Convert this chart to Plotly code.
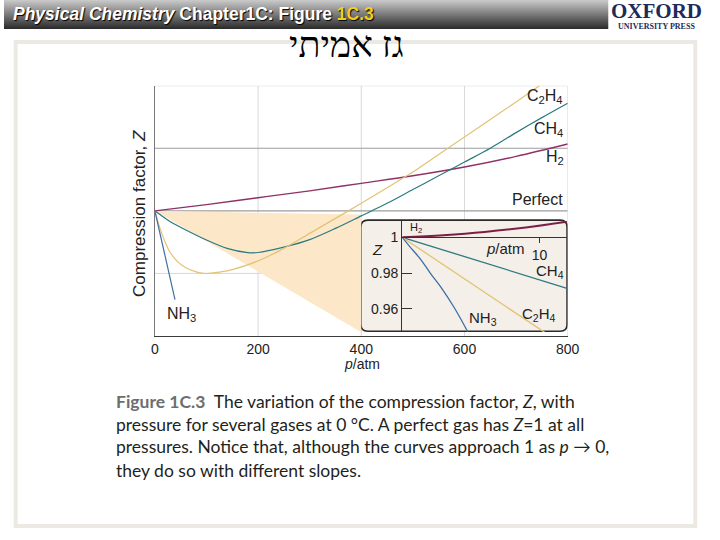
import plotly.graph_objects as go

W, H = 720, 540
def X(px): return px / W
def Y(py): return 1 - py / H

FONT = "Liberation Sans, Arial, sans-serif"

# ---------------- data ----------------
h2_p = [0, 100, 200, 300, 400, 500, 600, 700, 800]
h2_z = [1.0, 1.05, 1.105, 1.16, 1.22, 1.28, 1.35, 1.435, 1.534]

ch4_p = [0, 15, 30, 60, 100, 140, 180, 200, 250, 300, 350, 400, 450, 500, 550, 600, 650, 700, 750, 800]
ch4_z = [1.0, 0.955, 0.913, 0.847, 0.767, 0.70, 0.666, 0.667, 0.71, 0.77, 0.86, 0.96, 1.06, 1.17, 1.28, 1.39, 1.50, 1.625, 1.745, 1.86]

c2h4_p = [0, 10, 20, 30, 45, 60, 80, 95, 110, 125, 150, 200, 250, 300, 350, 400, 450, 500, 550, 600, 650, 700, 745]
c2h4_z = [1.0, 0.86, 0.75, 0.665, 0.59, 0.545, 0.512, 0.5, 0.502, 0.51, 0.53, 0.6, 0.7, 0.82, 0.94, 1.06, 1.185, 1.31, 1.45, 1.59, 1.73, 1.87, 2.0]

nh3_p = [0, 10, 20, 30, 39]
nh3_z = [1.0, 0.82, 0.64, 0.46, 0.29]

shade_p = [0, 400, 400, 0]
shade_z = [1.0, 0.97, 0.03, 1.0]

# inset (low pressure)
in_h2_p = [0, 3, 6, 9, 12]
in_h2_z = [1.0, 1.0012, 1.003, 1.0055, 1.0087]
in_ch4_p = [0, 12]
in_ch4_z = [1.0, 0.9715]
in_c2h4_p = [0, 12]
in_c2h4_z = [1.0, 0.9386]
in_nh3_p = [0, 0.55, 1.38, 2.04, 2.9, 3.75, 4.7, 5.2]
in_nh3_z = [1.0, 0.9948, 0.9873, 0.98, 0.9712, 0.9612, 0.9482, 0.9405]

main_xticks = [0, 200, 400, 600, 800]
inset_yticks = [0.96, 0.98, 1.0]
inset_yticktext = ["0.96", "0.98", "1"]
inset_xticks = [10]

C_H2 = "#8f3068"
C_CH4 = "#2b7a80"
C_C2H4 = "#e3c275"
C_NH3 = "#3f6ea6"

fig = go.Figure()

# main plot
fig.add_trace(go.Scatter(x=shade_p, y=shade_z, mode="lines", fill="toself",
                         fillcolor="#fce8c9", line=dict(width=0), hoverinfo="skip"))
fig.add_trace(go.Scatter(x=h2_p, y=h2_z, mode="lines", line=dict(color=C_H2, width=1.4, shape="spline")))
fig.add_trace(go.Scatter(x=ch4_p, y=ch4_z, mode="lines", line=dict(color=C_CH4, width=1.2, shape="spline", smoothing=0.8)))
fig.add_trace(go.Scatter(x=c2h4_p, y=c2h4_z, mode="lines", line=dict(color=C_C2H4, width=1.2, shape="spline", smoothing=0.8)))
fig.add_trace(go.Scatter(x=nh3_p, y=nh3_z, mode="lines", line=dict(color=C_NH3, width=1.2)))

# inset
fig.add_trace(go.Scatter(x=in_h2_p, y=in_h2_z, mode="lines", xaxis="x2", yaxis="y2",
                         line=dict(color="#7a2048", width=2, shape="spline")))
fig.add_trace(go.Scatter(x=in_ch4_p, y=in_ch4_z, mode="lines", xaxis="x2", yaxis="y2",
                         line=dict(color=C_CH4, width=1.3)))
fig.add_trace(go.Scatter(x=in_c2h4_p, y=in_c2h4_z, mode="lines", xaxis="x2", yaxis="y2",
                         line=dict(color=C_C2H4, width=1.3)))
fig.add_trace(go.Scatter(x=in_nh3_p, y=in_nh3_z, mode="lines", xaxis="x2", yaxis="y2",
                         line=dict(color=C_NH3, width=1.3, shape="spline")))

shapes = []
# title bar gradient
top = (200, 200, 200)
bot = (44, 44, 44)
n = 29
for i in range(n):
    t = i / (n - 1)
    c = tuple(int(top[k] + (bot[k] - top[k]) * t) for k in range(3))
    shapes.append(dict(type="rect", xref="paper", yref="paper", x0=0, x1=X(618),
                       y0=Y(i + 1), y1=Y(i), fillcolor="rgb(%d,%d,%d)" % c,
                       line=dict(width=0), layer="below"))
# panel frame
shapes.append(dict(type="rect", xref="paper", yref="paper", x0=X(12), x1=X(707), y0=Y(526), y1=Y(42),
                   line=dict(color="#ebe9e2", width=4), fillcolor="rgba(0,0,0,0)", layer="below"))
# main grid
for gx in [200, 400, 600, 800]:
    shapes.append(dict(type="line", xref="x", yref="y", x0=gx, x1=gx, y0=0, y1=2,
                       line=dict(color="#d8d8d8", width=1), layer="below"))
for gy, col, wd in [(0.5, "#d8d8d8", 1), (1.0, "#9c9c9c", 1.2), (1.5, "#9c9c9c", 1.2), (2.0, "#d0d0d0", 1)]:
    shapes.append(dict(type="line", xref="x", yref="y", x0=0, x1=800, y0=gy, y1=gy,
                       line=dict(color=col, width=wd), layer="below"))
# inset box (rounded)
x0, x1, y0, y1 = 399.2, 798.8, 0.0376, 0.9256
rx, ry = 13.3, 0.056
path = (f"M {x0+rx},{y1} L {x1-rx},{y1} Q {x1},{y1} {x1},{y1-ry} L {x1},{y0+ry} "
        f"Q {x1},{y0} {x1-rx},{y0} L {x0+rx},{y0} Q {x0},{y0} {x0},{y0+ry} "
        f"L {x0},{y1-ry} Q {x0},{y1} {x0+rx},{y1} Z")
shapes.append(dict(type="path", xref="x", yref="y", path=path, fillcolor="#f4efe8",
                   line=dict(color="#2a2a2a", width=1.6), layer="below"))

ann = []
def A(text, x, y, size=16, xref="paper", yref="paper", xanchor="center", yanchor="middle",
      color="#222", family=FONT, **kw):
    ann.append(dict(text=text, x=x, y=y, xref=xref, yref=yref, xanchor=xanchor, yanchor=yanchor,
                    showarrow=False, font=dict(size=size, color=color, family=family), **kw))

# header
ann.append(dict(text="<b><i>Physical Chemistry</i> Chapter1C: Figure <span style='color:#f2cf1f'>1C.3</span></b>",
                x=X(7), y=Y(14), xref="paper", yref="paper", xanchor="left", yanchor="middle",
                showarrow=False, font=dict(size=17.5, color="white", family=FONT, shadow="1px 1px 1px #000")))
A("<b>OXFORD</b>", X(667), Y(11), size=21, color="#1d2b5b", family="Liberation Serif, Times New Roman, serif")
A("<b>UNIVERSITY PRESS</b>", X(667), Y(26.5), size=8, color="#1d2b5b", family="Liberation Serif, Times New Roman, serif")
A("גז אמיתי", X(350), Y(45), size=36, color="#000", family="Liberation Serif, DejaVu Serif, serif")

# main labels
A("C<sub>2</sub>H<sub>4</sub>", 795, 1.91, xref="x", yref="y", xanchor="right")
A("CH<sub>4</sub>", 795, 1.654, xref="x", yref="y", xanchor="right")
A("H<sub>2</sub>", 796, 1.43, xref="x", yref="y", xanchor="right")
A("Perfect", 794, 1.088, xref="x", yref="y", xanchor="right")
A("NH<sub>3</sub>", 20, 0.174, xref="x", yref="y", xanchor="left")
A("Compression factor, <i>Z</i>", X(139), Y(213), size=17, textangle=-90)
A("<i>p</i>/atm", X(366), Y(364), size=14)

# inset labels
A("H<sub>2</sub>", 0.41, 1.0052, size=11, xref="x2", yref="y2", xanchor="left")
A("CH<sub>4</sub>", 11.94, 0.9808, size=15, xref="x2", yref="y2", xanchor="right")
A("C<sub>2</sub>H<sub>4</sub>", 11.37, 0.9566, size=15, xref="x2", yref="y2", xanchor="right")
A("NH<sub>3</sub>", 5.85, 0.9549, size=15, xref="x2", yref="y2")
A("<i>p</i>/atm", 9.1, 0.994, size=15, xref="x2", yref="y2", xanchor="right")
A("<i>Z</i>", X(381.7), Y(249), size=15)

# caption
CAP = "Lato, Open Sans, sans-serif"
cap_lines = [
    "<span style='color:#6e6e6e'><b>Figure 1C.3</b></span>  The variation of the compression factor, <i>Z</i>, with",
    "pressure for several gases at 0 °C. A perfect gas has <i>Z</i>=1 at all",
    "pressures. Notice that, although the curves approach 1 as <i>p</i> → 0,",
    "they do so with different slopes.",
]
for i, line in enumerate(cap_lines):
    A(line, X(112), Y(401 + 23 * i), size=17.5, xanchor="left", color="#231f20", family=CAP)

axfont = dict(size=14, color="#222", family=FONT)
fig.update_layout(
    width=W, height=H, autosize=False, margin=dict(l=0, r=0, t=0, b=0),
    paper_bgcolor="white", plot_bgcolor="rgba(0,0,0,0)", showlegend=False,
    shapes=shapes, annotations=ann,
    xaxis=dict(domain=[X(154.3), X(576.5)], range=[0, 800], tickvals=main_xticks,
               showgrid=False, zeroline=False, showline=True, linecolor="#3a3a3a", linewidth=1.3,
               ticks="", tickfont=axfont, anchor="y", fixedrange=True),
    yaxis=dict(domain=[Y(336), Y(85.7)], range=[0, 2], showticklabels=False, showgrid=False,
               zeroline=False, showline=True, linecolor="#777", linewidth=1.2, ticks="",
               anchor="x", fixedrange=True),
    xaxis2=dict(domain=[X(407.3), X(576)], range=[0, 12.02], anchor="free", position=Y(237.3),
                tickvals=inset_xticks, ticks="outside", ticklen=5, tickcolor="#333",
                showline=True, linecolor="#333", linewidth=1.3, showgrid=False, zeroline=False,
                tickfont=axfont, fixedrange=True),
    yaxis2=dict(domain=[Y(332), Y(221)], range=[0.9471, 1.0091], anchor="x2",
                tickvals=inset_yticks, ticktext=inset_yticktext, ticks="inside", ticklen=10,
                tickcolor="#333", showline=True, linecolor="#333", linewidth=1.3,
                showgrid=False, zeroline=False, tickfont=axfont, fixedrange=True),
)

fig.write_html("out.html", config={"displayModeBar": False},
               post_script=("document.documentElement.style.margin='0';"
                            "document.documentElement.style.overflow='hidden';"
                            "document.body.style.margin='0';document.body.style.overflow='hidden';"))
